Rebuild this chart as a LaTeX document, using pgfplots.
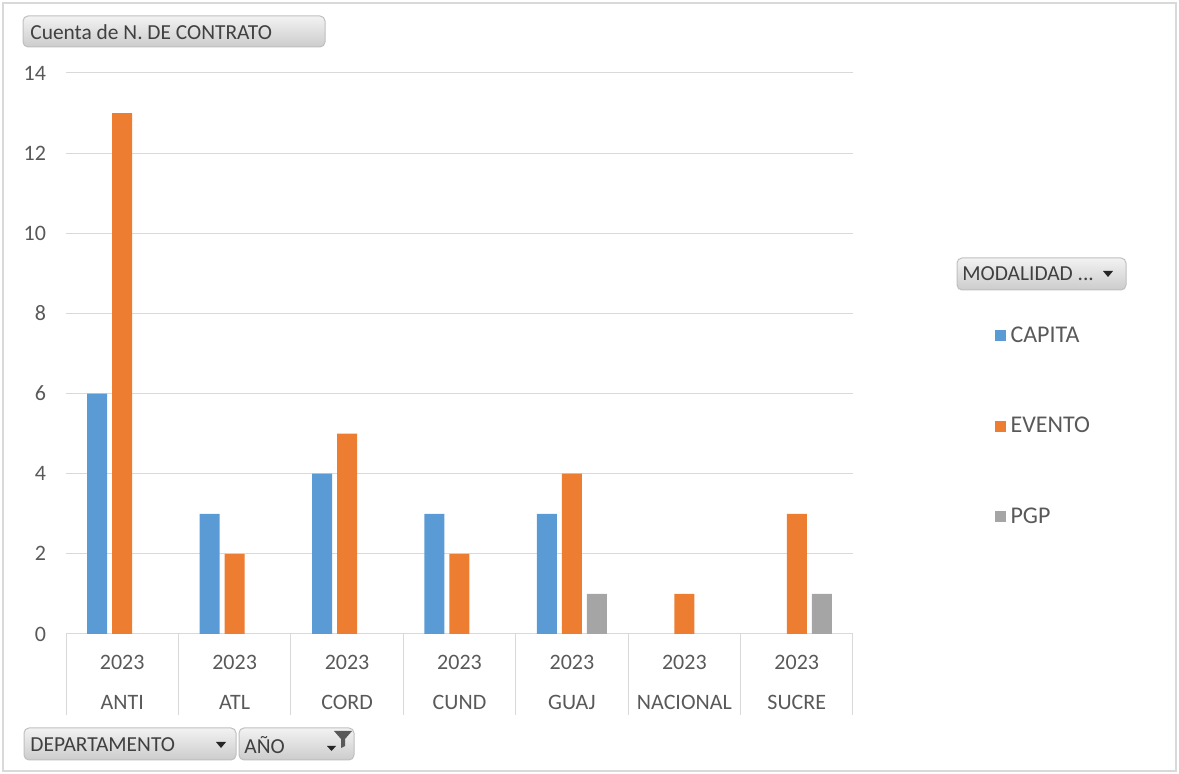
\documentclass[border=0pt]{standalone}
\usepackage{fontspec}
\setmainfont{Carlito}
\usepackage{pgfplots}
\pgfplotsset{compat=1.18}
\definecolor{capita}{HTML}{5B9BD5}
\definecolor{evento}{HTML}{ED7D31}
\definecolor{pgp}{HTML}{A5A5A5}
\definecolor{gridc}{HTML}{D9D9D9}
\definecolor{txt}{HTML}{595959}
\definecolor{btntxt}{HTML}{404040}
\definecolor{btnborder}{HTML}{BFBFBF}

\begin{document}
\begin{tikzpicture}
	% frame and pivot buttons, in pixel units
	\begin{scope}[x=0.5pt,y=-0.5pt]
	\useasboundingbox (0,0) rectangle (1179,774);
	\draw[gridc, line width=1pt] (3,3) rectangle (1176,771);
	\tikzset{btn/.style={draw=btnborder, line width=0.5pt, rounded corners=2.5pt,
			top color=white!95!black, bottom color=white!80!black},
		btnlbl/.style={anchor=west, inner sep=0pt, text=btntxt, font=\fontsize{10.7}{12}\selectfont}}
	\path[btn] (23,16) rectangle (325,47);
	\node[btnlbl] at (30,32) {Cuenta de N. DE CONTRATO};
	\path[btn] (957,258) rectangle (1126,290);
	\node[btnlbl] at (962,274) {MODALIDAD ...};
	\fill[black!85] (1103,271) -- (1113,271) -- (1108,277) -- cycle;
	\path[btn] (24,728) rectangle (236,760);
	\node[btnlbl] at (30,745) {DEPARTAMENTO};
	\fill[black!85] (216,742) -- (226,742) -- (221,748) -- cycle;
	\path[btn] (239,728) rectangle (354,760);
	\node[btnlbl] at (244,745) {AÑO};
	\fill[black!85] (327,746) -- (336,746) -- (331.5,751) -- cycle;
	\fill[txt] (334,731) -- (352,731) -- (345,739) -- (345,746) -- (341,748) -- (341,739) -- cycle;
	\end{scope}

	\begin{axis}[
	at={(33pt,-317pt)}, anchor=south west,
	scale only axis, width=393.5pt, height=280.5pt,
	ybar, bar width=10pt,
	xmin=-0.5, xmax=6.5, ymin=0, ymax=14,
	xtick={0,...,6},
	xticklabels={{2023\\ANTI},{2023\\ATL},{2023\\CORD},{2023\\CUND},{2023\\GUAJ},{2023\\NACIONAL},{2023\\SUCRE}},
	ytick={0,2,...,14},
	ymajorgrids, grid style={gridc, line width=0.5pt},
	axis line style={draw=none},
	major tick length=0pt,
	/pgf/number format/assume math mode=true,
	tick label style={text=txt, font=\fontsize{11}{20}\selectfont},
	xticklabel style={align=center, yshift=-7.1pt},
	yticklabel style={xshift=-6.5pt},
	clip=false,
	legend style={draw=none, fill=none, at={(axis description cs:1.172,0.563)}, anchor=north west,
		font=\fontsize{12}{14}\selectfont, text=txt, row sep=32pt,
		nodes={inner xsep=2.4pt, inner ysep=2pt}},
	legend cell align=left,
	legend image code/.code={\fill[#1] (0pt,-2.75pt) rectangle (5.5pt,2.75pt);},
	]
	\addplot[fill=capita, draw=none, bar shift=-12.5pt]
	coordinates {(0,6)(1,3)(2,4)(3,3)(4,3)};
	\addplot[fill=evento, draw=none, bar shift=0pt]
	coordinates {(0,13)(1,2)(2,5)(3,2)(4,4)(5,1)(6,3)};
	\addplot[fill=pgp, draw=none, bar shift=12.5pt]
	coordinates {(4,1)(6,1)};
	\legend{CAPITA, EVENTO, PGP}

	% category separators below the axis
	\pgfplotsinvokeforeach{-0.5,0.5,1.5,2.5,3.5,4.5,5.5,6.5}{
		\draw[gridc, line width=0.5pt] (axis cs:#1,0) -- ([yshift=-40.5pt]axis cs:#1,0);
	}
	\end{axis}
\end{tikzpicture}
\end{document}
